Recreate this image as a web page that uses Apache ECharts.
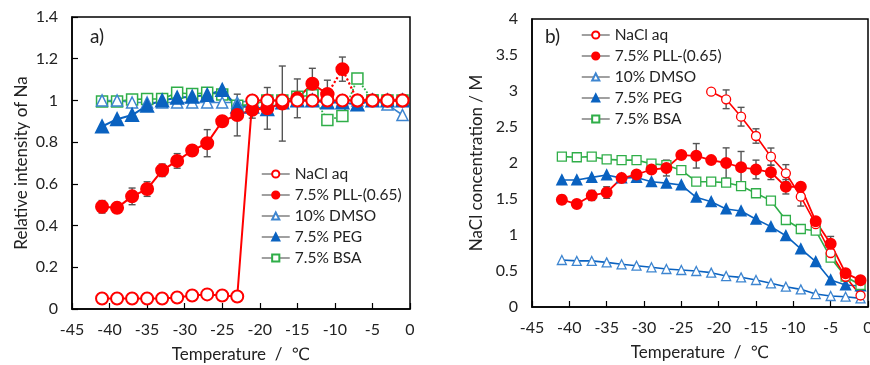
<!DOCTYPE html>
<html>
<head>
<meta charset="utf-8">
<script src="https://cdn.jsdelivr.net/npm/echarts@6/dist/echarts.min.js"></script>
<style>
  html, body { margin: 0; padding: 0; background: #fff; }
  #chart { width: 870px; height: 365px; }
</style>
</head>
<body>
<div id="chart"></div>
<script>
// temperatures (deg C), same for both panels
const temps = [-41, -39, -37, -35, -33, -31, -29, -27, -25, -23, -21, -19, -17, -15, -13, -11, -9, -7, -5, -3, -1];

// panel a) relative intensity of Na
const naclA = [0.05, 0.05, 0.05, 0.05, 0.05, 0.055, 0.065, 0.07, 0.065, 0.06, 1.0, 1.0, 1.0, 1.0, 1.0, 1.0, 1.0, 1.0, 1.0, 1.0, 1.0];
const pllA = [0.49, 0.485, 0.54, 0.575, 0.665, 0.71, 0.76, 0.795, 0.9, 0.93, 0.955, 0.962, 0.985, 1.01, 1.08, 1.03, 1.15, 1.0, 1.0, 1.0, 1.0];
const pllErrA = [0.03, 0, 0.04, 0.035, 0.03, 0.035, 0, 0.065, 0, 0.1, 0.04, 0.1, 0.18, 0.093, 0.074, 0.067, 0.058, 0, 0, 0, 0];
const dmsoA = [1.0, 1.0, 0.99, 0.99, 0.99, 0.99, 0.99, 0.99, 0.99, 0.99, 1.0, 1.0, 1.0, 1.0, 1.0, 0.99, 1.0, 1.0, 1.0, 0.98, 0.93];
const pegA = [0.875, 0.91, 0.93, 0.975, 1.0, 1.013, 1.018, 1.026, 1.05, 0.97, 0.97, 0.958, 0.99, 1.0, 1.0, 0.99, 0.99, 0.98, 1.0, 1.0, 1.0];
const bsaA = [0.995, 0.995, 1.005, 1.007, 1.007, 1.037, 1.031, 1.037, 1.029, 0.975, 0.98, 1.0, 1.0, 1.018, 1.025, 0.906, 0.925, 1.105, 1.0, 1.0, 1.0];

// panel b) NaCl concentration / M
const naclB = [null, null, null, null, null, null, null, null, null, null, 2.99, 2.885, 2.643, 2.375, 2.088, 1.857, 1.532, 1.15, 0.75, 0.42, 0.16];
const naclErrB = [0, 0, 0, 0, 0, 0, 0, 0, 0, 0, 0, 0.13, 0.13, 0.1, 0.12, 0.12, 0.13, 0.05, 0.1, 0, 0];
const pllB = [1.49, 1.43, 1.55, 1.59, 1.79, 1.84, 1.91, 1.93, 2.11, 2.1, 2.04, 2.0, 1.94, 1.91, 1.87, 1.67, 1.67, 1.19, 0.88, 0.47, 0.37];
const pllErrB = [0.06, 0, 0.07, 0.08, 0.04, 0.05, 0, 0.11, 0, 0.17, 0, 0.21, 0.22, 0.13, 0.1, 0.1, 0.05, 0, 0.1, 0, 0];
const dmsoB = [0.653, 0.64, 0.64, 0.62, 0.593, 0.574, 0.551, 0.528, 0.514, 0.5, 0.477, 0.43, 0.412, 0.375, 0.329, 0.282, 0.245, 0.18, 0.153, 0.143, 0.12];
const pegB = [1.764, 1.764, 1.8, 1.833, 1.79, 1.8, 1.74, 1.72, 1.694, 1.523, 1.463, 1.361, 1.333, 1.218, 1.116, 0.99, 0.806, 0.63, 0.375, 0.306, 0.292];
const bsaB = [2.088, 2.08, 2.088, 2.05, 2.04, 2.04, 1.99, 1.97, 1.9, 1.74, 1.74, 1.727, 1.68, 1.58, 1.477, 1.208, 1.083, 1.06, 0.685, 0.421, 0.306];

const names = ['NaCl aq', '7.5% PLL-(0.65)', '10% DMSO', '7.5% PEG', '7.5% BSA'];
const xTicks = [-45, 0, 5];   // min, max, step
const yTicksA = [0, 1.4, 0.2];
const yTicksB = [0, 4, 0.5];

const FONT = 'Lato, "DejaVu Sans", sans-serif';
const RED = '#ff0000', BLUE_L = '#3d85d0', BLUE = '#0a62c0', GREEN = '#2fae48';

const pts = (vals, from, to) => temps.map((t, i) =>
  (vals[i] == null || i < from || i > to) ? [t, '-'] : [t, vals[i]]);

function line(name, vals, ax, o) {
  return Object.assign({
    name: name, type: 'line', xAxisIndex: ax, yAxisIndex: ax,
    data: pts(vals, o.from || 0, o.to == null ? 20 : o.to),
    symbol: o.symbol, symbolSize: o.size,
    connectNulls: false, z: 3,
    lineStyle: { color: o.color, width: o.width || 2, type: o.type || 'solid' },
    itemStyle: { color: o.fill, borderColor: o.color, borderWidth: o.bw || 2 },
    emphasis: { disabled: true }
  }, o.extra || {});
}

function errBars(vals, errs, ax) {
  const data = [];
  temps.forEach((t, i) => {
    if (errs[i] > 0 && vals[i] != null) data.push([t, vals[i] - errs[i], vals[i] + errs[i]]);
  });
  return {
    type: 'custom', xAxisIndex: ax, yAxisIndex: ax, z: 2, silent: true,
    data: data,
    renderItem: function (params, api) {
      const lo = api.coord([api.value(0), api.value(1)]);
      const hi = api.coord([api.value(0), api.value(2)]);
      const w = 3.5, st = { stroke: '#555', lineWidth: 1.4 };
      return {
        type: 'group', children: [
          { type: 'line', shape: { x1: lo[0], y1: lo[1], x2: hi[0], y2: hi[1] }, style: st },
          { type: 'line', shape: { x1: lo[0] - w, y1: lo[1], x2: lo[0] + w, y2: lo[1] }, style: st },
          { type: 'line', shape: { x1: hi[0] - w, y1: hi[1], x2: hi[0] + w, y2: hi[1] }, style: st }
        ]
      };
    }
  };
}

const numFmt = v => String(+(+v).toFixed(1));

function xAxis(gi) {
  return {
    type: 'value', gridIndex: gi, min: xTicks[0], max: xTicks[1], interval: xTicks[2],
    name: 'Temperature  /  ℃', nameLocation: 'middle', nameGap: 37,
    nameTextStyle: { fontFamily: FONT, fontSize: 17, color: '#222' },
    axisLine: { onZero: false, lineStyle: { color: '#000', width: 1.5 } },
    axisTick: { inside: true, length: 6, lineStyle: { color: '#000', width: 1.2 } },
    axisLabel: { fontFamily: FONT, fontSize: 16, color: '#222', margin: 13, formatter: numFmt },
    splitLine: { show: false }
  };
}

function yAxis(gi, tk, name, ticks, gap) {
  return {
    type: 'value', gridIndex: gi, min: tk[0], max: tk[1], interval: tk[2],
    name: name, nameLocation: 'middle', nameGap: gap,
    nameTextStyle: { fontFamily: FONT, fontSize: 17, color: '#222' },
    axisLine: { onZero: false, lineStyle: { color: '#000', width: 1.5 } },
    axisTick: { show: ticks, inside: true, length: 6, lineStyle: { color: '#000', width: 1.2 } },
    axisLabel: { fontFamily: FONT, fontSize: 16, color: '#222', margin: 14, formatter: numFmt },
    splitLine: { show: false }
  };
}

function legend(left, top) {
  return {
    data: names, orient: 'vertical', left: left, top: top,
    itemWidth: 28, itemHeight: 9, itemGap: 3,
    lineStyle: { color: '#808080', width: 1.5 },
    textStyle: { fontFamily: FONT, fontSize: 15.5, color: '#222', lineHeight: 18 },
    selectedMode: false
  };
}

const series = [
  // panel a
  line(names[4], bsaA, 0, { symbol: 'rect', size: 11, color: GREEN, fill: '#fff', width: 1.6, bw: 1.5, to: 14 }),
  line(names[4] + ' a2', bsaA, 0, { symbol: 'rect', size: 11, color: GREEN, fill: '#fff', width: 1.8, bw: 1.5, from: 14, to: 18, type: 'dotted' }),
  line(names[4] + ' a3', bsaA, 0, { symbol: 'rect', size: 11, color: GREEN, fill: '#fff', width: 1.6, bw: 1.5, from: 18 }),
  line(names[2], dmsoA, 0, { symbol: 'triangle', size: 11, color: BLUE_L, fill: '#fff', width: 1.6, bw: 1.5 }),
  line(names[3], pegA, 0, { symbol: 'triangle', size: 12, color: BLUE, fill: BLUE, width: 2 }),
  errBars(pllA, pllErrA, 0),
  line(names[1], pllA, 0, { symbol: 'circle', size: 12, color: RED, fill: RED, width: 2, to: 15 }),
  line(names[1] + ' a2', pllA, 0, { symbol: 'circle', size: 12, color: RED, fill: RED, width: 2.2, from: 15, type: 'dotted' }),
  line(names[0], naclA, 0, { symbol: 'circle', size: 12, color: RED, fill: '#fff', width: 2 }),
  // panel b
  line(names[2], dmsoB, 1, { symbol: 'triangle', size: 9, color: BLUE_L, fill: '#fff', width: 1.6, bw: 1.3, extra: { lineStyle: { color: BLUE, width: 1.6 } } }),
  line(names[3], pegB, 1, { symbol: 'triangle', size: 9, color: BLUE, fill: BLUE, width: 1.6 }),
  line(names[4], bsaB, 1, { symbol: 'rect', size: 9, color: GREEN, fill: '#fff', width: 1.6, bw: 1.3 }),
  errBars(naclB, naclErrB, 1),
  line(names[0], naclB, 1, { symbol: 'circle', size: 9, color: RED, fill: '#fff', width: 1.6, bw: 1.3 }),
  errBars(pllB, pllErrB, 1),
  line(names[1], pllB, 1, { symbol: 'circle', size: 10, color: RED, fill: RED, width: 1.8 })
];

const chart = echarts.init(document.getElementById('chart'), null, { renderer: 'canvas' });
chart.setOption({
  animation: false,
  backgroundColor: '#fff',
  grid: [
    { left: 72, top: 17, width: 338, height: 292, show: true, borderColor: '#000', borderWidth: 1.5, backgroundColor: 'transparent', outerBoundsMode: 'none', containLabel: false },
    { left: 532, top: 19, width: 336, height: 288, show: true, borderColor: '#000', borderWidth: 1.5, backgroundColor: 'transparent', outerBoundsMode: 'none', containLabel: false }
  ],
  xAxis: [xAxis(0), xAxis(1)],
  yAxis: [
    yAxis(0, yTicksA, 'Relative intensity of Na', true, 42),
    yAxis(1, yTicksB, 'NaCl concentration / M', false, 47)
  ],
  legend: [legend(256, 160), legend(576, 21)],
  graphic: [
    { type: 'text', left: 90, top: 27, style: { text: 'a)', fontFamily: FONT, fontSize: 19, fill: '#222' } },
    { type: 'text', left: 545, top: 27, style: { text: 'b)', fontFamily: FONT, fontSize: 19, fill: '#222' } }
  ],
  series: series
});
</script>
</body>
</html>
